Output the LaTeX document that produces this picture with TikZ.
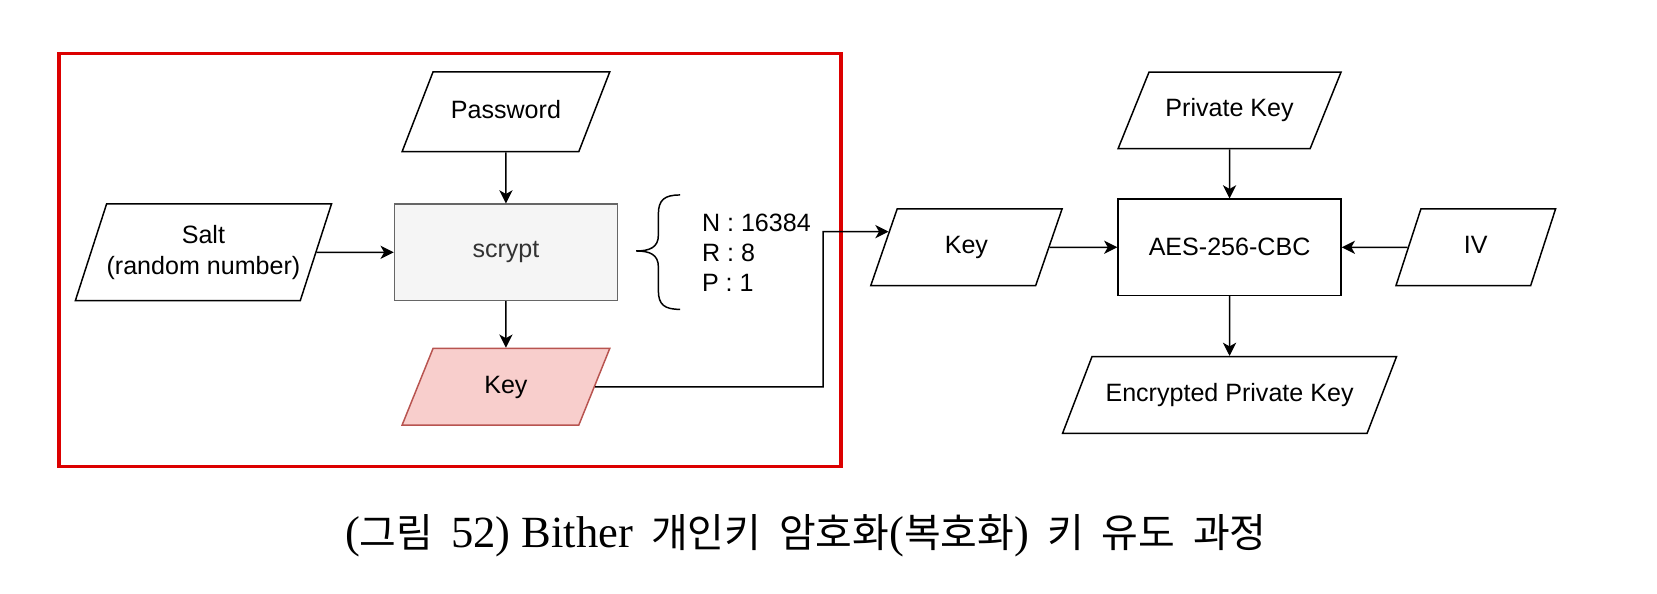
\documentclass[tikz,border=0pt]{standalone}
\usepackage{fontspec}
\setmainfont{Liberation Sans}
\newfontfamily\korfont[WordSpace=2]{Noto Sans CJK KR}
\newfontfamily\capserif{Liberation Serif}
\newcommand\lat{\capserif\fontsize{24}{28}\selectfont}
\usetikzlibrary{shapes.geometric,arrows.meta,calc}
\definecolor{boxred}{RGB}{220,0,0}
\definecolor{keyfill}{HTML}{F8CECC}
\definecolor{keydraw}{HTML}{B85450}
\definecolor{grayfill}{HTML}{F5F5F5}
\definecolor{graydraw}{HTML}{666666}
\definecolor{graytext}{HTML}{333333}
\begin{document}
\begin{tikzpicture}
[iobase/.style={shape=trapezium,trapezium left angle=68,trapezium right angle=112,%
   trapezium stretches body,draw,line width=0.8pt,inner xsep=0pt,%
   font=\fontsize{13.5}{17}\selectfont,align=center},%
  iodecorate/.style={iobase,inner ysep=0.5cm,text height=9.8pt,text depth=3pt},%
  procdecorate/.style={shape=rectangle,draw,line width=0.8pt,inner sep=0pt,%
   font=\fontsize{13.5}{17}\selectfont,minimum width=4.22cm,minimum height=1.82cm},%
  arrowdecorate/.style={-{Stealth[length=2.5mm,width=2.5mm,inset=0.7mm]},line width=0.8pt}]
\useasboundingbox (0,0) rectangle (31.36,-11.24);
% red frame round the key derivation
\draw[boxred,line width=2pt] (1.12,-1.01) rectangle (15.91,-8.83);
% nodes, left part
\node (pw) at (9.575,-2.115) [iodecorate,minimum width=3.93cm,minimum height=1.51cm] {Password};
\node (salt) at (3.85,-4.775) [iobase,inner ysep=0.39cm,trapezium left angle=72,trapezium right angle=108,minimum width=4.82cm,minimum height=1.83cm] {Salt\\(random number)};
\node (scrypt) at (9.575,-4.775) [procdecorate,fill=grayfill,draw=graydraw,text=graytext] {scrypt};
\node (keya) at (9.575,-7.32) [iodecorate,fill=keyfill,draw=keydraw,minimum width=3.93cm,minimum height=1.42cm] {Key};
\node (param) at (13.28,-4.79) [anchor=west,align=left,inner sep=0pt,font=\fontsize{13.5}{16.2}\selectfont] {N : 16384\\R : 8\\P : 1};
% nodes, right part
\node (keyb) at (18.29,-4.68) [iodecorate,trapezium left angle=71,trapezium right angle=109,minimum width=3.62cm,minimum height=1.44cm] {Key};
\node (aes) at (23.27,-4.68) [procdecorate] {AES-256-CBC};
\node (priv) at (23.27,-2.09) [iodecorate,minimum width=4.22cm,minimum height=1.45cm] {Private Key};
\node (iv) at (27.93,-4.68) [iodecorate,trapezium left angle=72,trapezium right angle=108,minimum width=3.02cm,minimum height=1.44cm] {IV};
\node (enc) at (23.27,-7.475) [iodecorate,trapezium left angle=69,trapezium right angle=111,minimum width=6.32cm,minimum height=1.45cm] {Encrypted Private Key};
% caption
\node (cap) at (15.25,-10.36) [anchor=base,inner sep=0pt,font=\korfont\fontsize{21.5}{26}\selectfont]
  {{\lat(}그림 {\lat 52) Bither} 개인키 암호화{\lat(}복호화{\lat)} 키 유도 과정};
% brace before the parameters
\draw[line width=0.8pt] (12.87,-3.69) .. controls (12.58,-3.69) and (12.46,-3.78) .. (12.46,-4.05)
  -- (12.46,-4.45) .. controls (12.46,-4.68) and (12.3,-4.75) .. (12.04,-4.75)
  .. controls (12.3,-4.75) and (12.46,-4.82) .. (12.46,-5.05)
  -- (12.46,-5.5) .. controls (12.46,-5.77) and (12.58,-5.855) .. (12.87,-5.855);
% edges
\coordinate (turn) at (15.58,-7.32);
\coordinate (keyin) at ($(keyb.top left corner)!0.3!(keyb.bottom left corner)$);
\path
(pw) edge[arrowdecorate] (scrypt)
(salt) edge[arrowdecorate] (scrypt)
(scrypt) edge[arrowdecorate] (keya)
(priv) edge[arrowdecorate] (aes)
(keyb) edge[arrowdecorate] (aes)
(iv) edge[arrowdecorate] (aes)
(aes) edge[arrowdecorate] (enc);
\draw[arrowdecorate] (keya.east) -- (turn) |- (keyin);
\end{tikzpicture}
\end{document}
